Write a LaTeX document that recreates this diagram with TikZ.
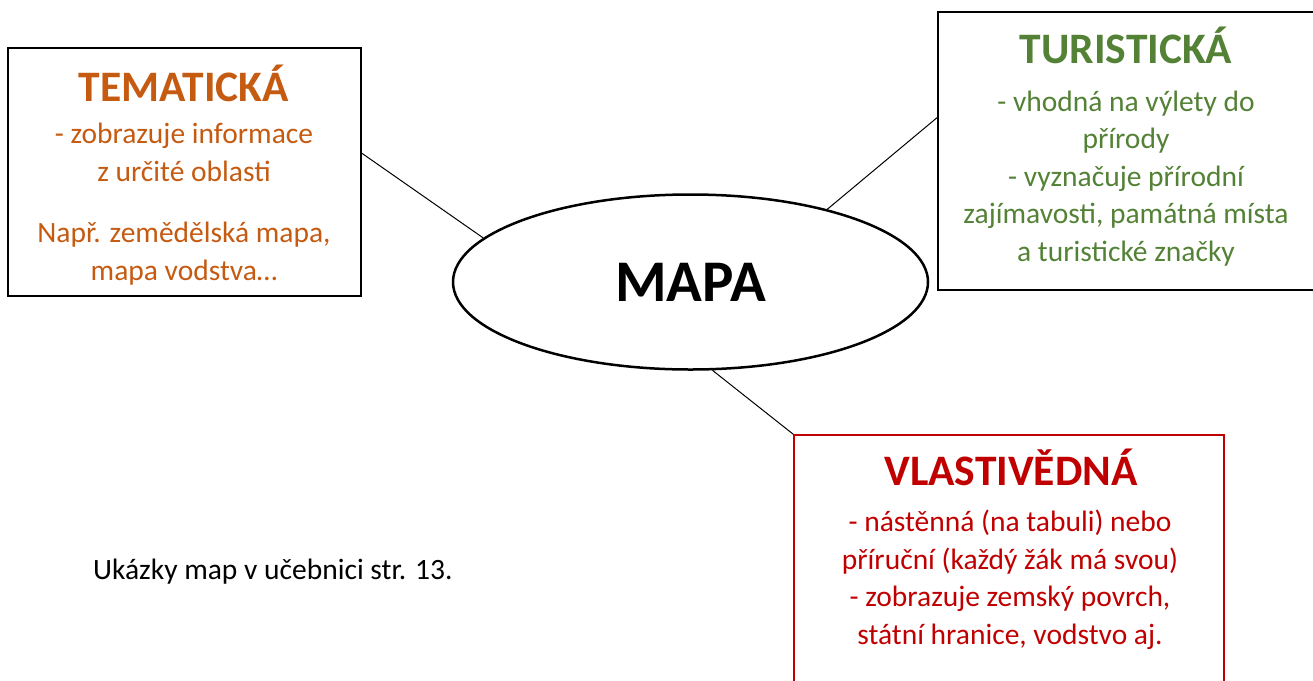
\documentclass[tikz,border=0pt]{standalone}
\usepackage{fontspec}
\setmainfont{Carlito}
\usetikzlibrary{positioning,shapes.geometric}
\definecolor{temcolor}{HTML}{C55A11}
\definecolor{turcolor}{HTML}{538135}
\definecolor{vlacolor}{HTML}{C00000}

\begin{document}
\begin{tikzpicture}[x=1pt, y=-1pt,
        typebox/.style={rectangle, draw=black, line width=2pt, inner sep=0pt},
        typetitle/.style={font=\fontsize{43.5}{50}\selectfont\bfseries, inner sep=0pt, anchor=base},
        typetext/.style={font=\fontsize{29.5}{37.5}\selectfont, align=center, inner sep=0pt, anchor=base},
        link/.style={line width=1pt},
]
        \useasboundingbox (0,0) rectangle (1313,680);

        \node[ellipse, draw, line width=2.5pt, minimum width=475, minimum height=175, inner sep=0pt,
              font=\fontsize{59}{70}\selectfont\bfseries] (mapa) at (690.5,282) {MAPA};

        \node[typebox, minimum width=353, minimum height=248] (tem) at (184.5,172) {};
        \node[typebox, minimum width=376, minimum height=278] (tur) at (1126,151) {};
        \node[typebox, draw=vlacolor, line width=1.5pt, minimum width=430, minimum height=300] (vla) at (1009,585) {};

        % base of a text block = baseline of its last line
        \node[typetitle, text=temcolor] (temtitle) at (184,101) {TEMATICKÁ};
        \node[typetext, text=temcolor] (temtext) at (184,280) {- zobrazuje informace\\z určité oblasti\\[24pt]Např. zemědělská mapa,\\mapa vodstva…};

        \node[typetitle, text=turcolor] (turtitle) at (1126,63) {TURISTICKÁ};
        \node[typetext, text=turcolor] (turtext) at (1126,261) {- vhodná na výlety do\\přírody\\- vyznačuje přírodní\\zajímavosti, památná místa\\a turistické značky};

        \node[typetitle, text=vlacolor] (vlatitle) at (1011,485) {VLASTIVĚDNÁ};
        \node[typetext, text=vlacolor] (vlatext) at (1010,644) {- nástěnná (na tabuli) nebo\\příruční (každý žák má svou)\\- zobrazuje zemský povrch,\\státní hranice, vodstvo aj.};

        \node[font=\fontsize{29.5}{37.5}\selectfont, inner sep=0pt, anchor=base west] (note) at (93,579) {Ukázky map v učebnici str. 13.};

        \draw[link] (tem.6) -- (mapa.168);
        \draw[link] (mapa.28) -- (tur.170);
        \draw[link] (mapa.284) -- (vla.north west);
\end{tikzpicture}
\end{document}
